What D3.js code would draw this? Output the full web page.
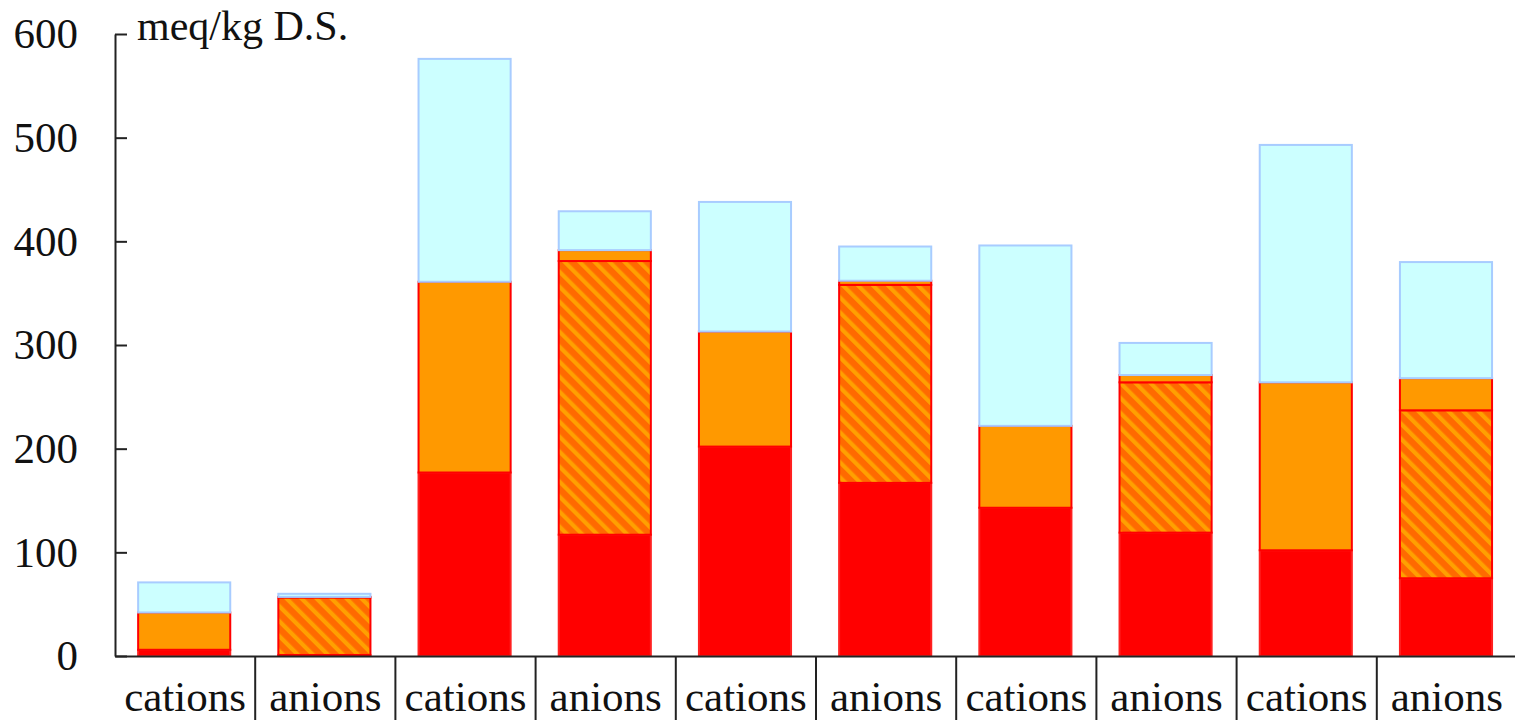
<!DOCTYPE html>
<html>
<head>
<meta charset="utf-8">
<script src="https://cdn.jsdelivr.net/npm/d3@7"></script>
<style>
  html, body { margin: 0; padding: 0; background: #fff; }
  svg { display: block; }
</style>
</head>
<body>
<svg id="chart" width="1515" height="720"></svg>
<script>
// ---- data ----
const categories = ["cations","anions","cations","anions","cations","anions","cations","anions","cations","anions"];
const redVals     = [6, 1, 177, 117, 202, 167, 143, 119, 102, 75];
const hatchedVals = [0, 55.5, 0, 264, 0, 191, 0, 145, 0, 162];
const orangeVals  = [36, 0.5, 184, 10.5, 111, 4, 79, 7, 162, 31];
const cyanVals    = [29, 3, 215, 37.5, 125, 33, 174, 31, 229, 112];
const yTicks = [0, 100, 200, 300, 400, 500, 600];
const unitLabel = "meq/kg D.S.";

// ---- setup ----
const svg = d3.select("#chart");
const y = d3.scaleLinear().domain([0, 600]).range([656, 34]);
const x = d3.scaleBand().domain(d3.range(categories.length)).range([115, 1517]).padding(0);
const font = "'Liberation Serif', 'Times New Roman', serif";

const rows = categories.map((c, i) => ({
  i, red: redVals[i], hatched: hatchedVals[i], orange: orangeVals[i], cyan: cyanVals[i]
}));
const keys = ["red", "hatched", "orange", "cyan"];
const stack = d3.stack().keys(keys)(rows);

// hatch pattern
const defs = svg.append("defs");
const pat = defs.append("pattern")
  .attr("id", "hatch")
  .attr("patternUnits", "userSpaceOnUse")
  .attr("width", 10.6).attr("height", 10.6)
  .attr("patternTransform", "rotate(-45)");
pat.append("rect").attr("width", 10.6).attr("height", 10.6).attr("fill", "#ff6a00");
pat.append("rect").attr("x", 0).attr("y", 0).attr("width", 4.2).attr("height", 10.6).attr("fill", "#ffa000");

const fills = { red: "#ff0000", hatched: "url(#hatch)", orange: "#ff9900", cyan: "#ccffff" };
const strokes = { red: "#ff2020", hatched: "#ff0000", orange: "#ff0000", cyan: "#a8ccff" };

const barW = x.bandwidth() * 0.657;
const barOff = x.bandwidth() * 0.165;

stack.forEach(layer => {
  svg.append("g")
    .selectAll("rect")
    .data(layer.filter(d => d[1] - d[0] > 0))
    .join("rect")
    .attr("x", d => x(d.data.i) + barOff)
    .attr("width", barW)
    .attr("y", d => y(d[1]))
    .attr("height", d => y(d[0]) - y(d[1]))
    .attr("fill", fills[layer.key])
    .attr("stroke", strokes[layer.key])
    .attr("stroke-width", 2);
});

// y axis
const yAxis = svg.append("g")
  .attr("transform", "translate(115,0)")
  .call(d3.axisLeft(y).tickValues(yTicks).tickSizeInner(-12).tickSizeOuter(0).tickPadding(37));
yAxis.select(".domain").attr("stroke", "#222").attr("stroke-width", 2);
yAxis.selectAll(".tick line").attr("stroke", "#222").attr("stroke-width", 2);
yAxis.selectAll(".tick text").attr("font-family", font).attr("font-size", 43).attr("fill", "#111");

// x axis
const xAxis = svg.append("g")
  .attr("transform", "translate(0,656)")
  .call(d3.axisBottom(x).tickSize(0).tickPadding(24).tickFormat(i => categories[i]));
xAxis.select(".domain").attr("stroke", "#222").attr("stroke-width", 2);
xAxis.selectAll(".tick text").attr("font-family", font).attr("font-size", 43).attr("fill", "#111");

// category separators
svg.append("g")
  .selectAll("line")
  .data(d3.range(1, categories.length))
  .join("line")
  .attr("x1", i => x(i)).attr("x2", i => x(i))
  .attr("y1", 656).attr("y2", 720)
  .attr("stroke", "#222").attr("stroke-width", 2);

// unit label
svg.append("text")
  .attr("x", 137).attr("y", 40)
  .attr("font-family", font).attr("font-size", 42).attr("fill", "#111")
  .text(unitLabel);
</script>
</body>
</html>
